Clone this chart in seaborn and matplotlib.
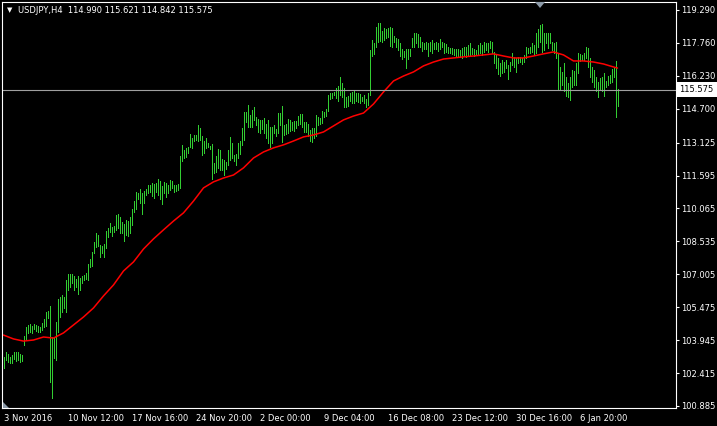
import matplotlib
matplotlib.use("Agg")
import matplotlib.pyplot as plt
from matplotlib.patches import Polygon
import seaborn as sns

# -----------------------------
# Data: USDJPY H4 bars (high / low)
# -----------------------------
symbol_text = "USDJPY,H4  114.990 115.621 114.842 115.575"
last_close = 115.575

highs = [
    103.16, 103.39, 103.30, 103.16, 103.25, 103.39, 103.39, 103.39, 103.30, 103.25,
    104.14, 104.56, 104.65, 104.70, 104.60, 104.70, 104.65, 104.60, 104.56, 104.74,
    104.93, 105.25, 105.30, 105.53, 104.09, 104.09, 104.79, 105.86, 105.95, 106.04,
    105.95, 106.74, 107.02, 107.02, 107.02, 106.93, 106.79, 106.93, 106.83, 106.93,
    106.97, 107.07, 107.48, 107.72, 108.04, 108.51, 108.93, 108.83, 108.37, 108.32,
    108.41, 109.02, 109.16, 109.39, 109.20, 109.25, 109.76, 109.81, 109.67, 109.44,
    109.34, 109.53, 109.48, 109.67, 110.04, 110.41, 110.83, 110.79, 110.97, 110.79,
    110.88, 110.97, 111.16, 111.16, 111.25, 111.20, 111.25, 111.44, 111.34, 111.11,
    111.30, 111.25, 111.16, 111.39, 111.34, 111.16, 111.16, 111.20, 112.50, 113.02,
    112.78, 112.88, 112.92, 113.53, 113.34, 113.48, 113.48, 113.94, 113.81, 113.43,
    113.20, 113.34, 113.11, 112.97, 113.05, 112.18, 112.50, 112.83, 112.78, 112.37,
    112.32, 112.22, 112.78, 113.39, 113.11, 112.55, 112.60, 113.11, 113.20, 113.81,
    114.55, 114.55, 114.88, 114.41, 114.64, 114.78, 114.32, 114.22, 114.18, 114.18,
    114.27, 113.99, 114.18, 113.85, 113.85, 113.95, 113.76, 114.50, 114.50, 114.83,
    113.95, 113.99, 114.22, 114.18, 114.09, 114.13, 114.13, 114.36, 114.46, 114.46,
    114.09, 114.09, 113.99, 113.71, 113.81, 113.81, 114.41, 114.32, 114.27, 114.60,
    114.55, 114.69, 115.34, 115.43, 115.43, 115.48, 115.66, 115.76, 116.18, 115.90,
    115.66, 115.25, 115.29, 115.43, 115.48, 115.53, 115.43, 115.43, 115.39, 115.25,
    115.34, 115.15, 115.43, 117.43, 117.90, 117.76, 118.50, 118.69, 118.69, 118.31,
    118.45, 118.41, 118.45, 118.50, 118.45, 118.08, 117.99, 117.94, 117.76, 117.48,
    117.38, 117.48, 117.48, 117.48, 117.99, 118.22, 118.22, 118.18, 118.04, 117.80,
    117.76, 117.80, 117.76, 117.80, 117.90, 117.76, 117.80, 117.76, 117.94, 117.80,
    117.76, 117.71, 117.57, 117.52, 117.52, 117.48, 117.48, 117.48, 117.43, 117.52,
    117.57, 117.57, 117.66, 117.76, 117.52, 117.48, 117.43, 117.66, 117.76, 117.66,
    117.80, 117.76, 117.76, 117.85, 117.80, 117.34, 117.20, 117.06, 116.83, 116.97,
    116.87, 116.97, 116.73, 116.87, 117.29, 117.11, 117.06, 117.11, 117.11, 117.06,
    117.20, 117.57, 117.52, 117.57, 117.76, 117.66, 118.22, 118.41, 118.59, 118.64,
    118.22, 118.22, 118.22, 118.22, 117.80, 117.76, 117.80, 117.29, 116.64, 116.41,
    116.83, 116.18, 115.90, 116.18, 116.50, 116.45, 116.83, 117.29, 117.25, 117.20,
    117.29, 117.57, 117.52, 117.06, 116.64, 116.50, 116.18, 115.94, 116.13, 116.18,
    116.36, 116.00, 116.22, 116.27, 116.55, 116.59, 116.92, 115.62,
]

lows = [
    102.65, 103.02, 102.93, 102.88, 102.88, 103.07, 102.98, 103.02, 102.93, 102.98,
    103.72, 103.95, 104.28, 104.32, 104.28, 104.46, 104.37, 104.32, 104.32, 104.42,
    104.56, 104.60, 104.97, 102.00, 101.26, 103.12, 103.02, 104.32, 105.02, 105.25,
    105.44, 105.25, 106.28, 106.42, 106.60, 106.28, 106.42, 106.09, 106.28, 106.60,
    106.74, 106.79, 106.74, 107.35, 107.39, 108.00, 108.28, 108.32, 107.81, 108.00,
    107.81, 108.23, 108.74, 108.98, 108.79, 108.98, 109.07, 109.16, 108.93, 108.93,
    108.56, 108.83, 108.79, 108.93, 109.30, 109.90, 110.04, 110.51, 110.32, 109.81,
    110.32, 110.69, 110.79, 110.83, 110.65, 110.55, 110.83, 110.69, 110.51, 110.27,
    110.79, 110.60, 110.79, 110.92, 111.02, 110.83, 110.88, 110.92, 111.02, 112.27,
    112.41, 112.46, 112.64, 112.92, 112.88, 113.20, 113.25, 113.20, 113.25, 112.55,
    112.64, 112.88, 112.92, 112.83, 111.44, 111.72, 111.76, 111.95, 111.86, 111.86,
    111.63, 111.90, 112.09, 112.32, 112.41, 112.27, 112.09, 112.41, 112.60, 113.02,
    113.25, 114.09, 113.85, 113.85, 113.85, 114.18, 113.95, 113.62, 113.57, 113.76,
    113.57, 113.34, 113.11, 112.92, 113.11, 113.57, 113.43, 113.57, 113.95, 113.16,
    113.48, 113.53, 113.57, 113.67, 113.71, 113.67, 113.81, 113.95, 113.99, 113.85,
    113.62, 113.62, 113.43, 113.20, 113.16, 113.34, 113.43, 113.95, 113.99, 114.04,
    114.32, 114.36, 114.60, 115.15, 115.20, 115.34, 115.20, 115.06, 115.34, 115.25,
    114.78, 114.78, 114.83, 115.06, 114.97, 114.97, 115.06, 115.01, 114.97, 115.06,
    114.97, 114.78, 114.88, 115.34, 117.15, 117.25, 117.57, 117.80, 117.85, 117.80,
    117.90, 117.99, 118.04, 117.62, 117.57, 117.80, 117.57, 117.43, 117.15, 117.01,
    117.11, 116.60, 117.01, 117.15, 117.57, 117.57, 117.76, 117.57, 117.57, 117.38,
    117.48, 117.48, 117.15, 117.38, 117.29, 117.48, 117.48, 117.38, 117.48, 117.57,
    117.29, 117.34, 117.29, 117.29, 117.25, 117.20, 117.11, 117.15, 117.11, 117.06,
    117.15, 117.11, 117.20, 117.15, 117.25, 117.15, 117.25, 117.20, 117.29, 117.20,
    117.34, 117.43, 117.34, 117.52, 117.29, 116.83, 116.59, 116.32, 116.22, 116.36,
    116.41, 116.59, 116.08, 116.45, 116.73, 116.64, 116.41, 116.83, 116.87, 116.78,
    116.87, 117.06, 117.29, 117.29, 117.34, 117.20, 117.29, 117.57, 117.80, 117.34,
    117.43, 117.76, 117.52, 117.76, 117.43, 117.29, 117.06, 115.62, 115.62, 115.80,
    115.53, 115.29, 115.25, 115.11, 115.71, 115.80, 115.80, 116.36, 116.92, 116.97,
    116.97, 117.06, 116.64, 116.18, 115.94, 115.71, 115.53, 115.25, 115.62, 115.53,
    115.29, 115.71, 115.80, 115.90, 115.94, 116.18, 114.32, 114.84,
]

# moving average (red line), read every 5th bar plus the last bar
ma_bars = list(range(0, 306, 5)) + [307]
ma_values = [
    104.18, 104.00, 103.90, 103.95, 104.09, 104.04, 104.28, 104.65, 105.02, 105.44,
    106.00, 106.51, 107.16, 107.58, 108.18, 108.65, 109.07, 109.48, 109.86, 110.41,
    111.02, 111.30, 111.48, 111.62, 111.95, 112.41, 112.69, 112.88, 113.02, 113.20,
    113.39, 113.48, 113.62, 113.90, 114.18, 114.36, 114.50, 114.92, 115.48, 115.99,
    116.22, 116.41, 116.69, 116.87, 117.01, 117.06, 117.11, 117.15, 117.20, 117.25,
    117.15, 117.06, 117.06, 117.15, 117.25, 117.34, 117.20, 116.92, 116.92, 116.87,
    116.78, 116.64, 116.59,
]

# axis labels
price_ticks = [100.885, 102.415, 103.945, 105.475, 107.005, 108.535, 110.065,
               111.595, 113.125, 114.700, 116.230, 117.760, 119.290]
date_tick_bars = [0, 32, 64, 96, 128, 160, 192, 224, 256, 288]
date_labels = ["3 Nov 2016", "10 Nov 12:00", "17 Nov 16:00", "24 Nov 20:00",
               "2 Dec 00:00", "9 Dec 04:00", "16 Dec 08:00", "23 Dec 12:00",
               "30 Dec 16:00", "6 Jan 20:00"]

bars = list(range(len(highs)))

# -----------------------------
# Style
# -----------------------------
sns.set_style("dark")
plt.rcParams["font.family"] = ["DejaVu Sans"]

W, H = 717, 426
fig = plt.figure(figsize=(W / 100, H / 100), dpi=100, facecolor="black")
ax = fig.add_axes([2 / W, 18 / H, 674 / W, 406 / H], facecolor="black")

bar_color = "#32cd32"
ma_color = "#ff0000"

# -----------------------------
# Bars and moving average
# -----------------------------
# one pixel wide bars, two pixels apart
ax.vlines(bars, lows, highs, color=bar_color, linewidth=0.72, antialiased=False)
sns.lineplot(x=ma_bars, y=ma_values, ax=ax, color=ma_color, linewidth=1.1)
ax.axhline(last_close, color="#a0a0a0", linewidth=0.8)

ax.set_xlim(-0.75, 336.25)
ax.set_ylim(100.79, 119.66)

# -----------------------------
# Axes, ticks
# -----------------------------
for sp in ax.spines.values():
    sp.set_color("white")
    sp.set_linewidth(0.8)
    sp.set_visible(True)
ax.grid(False)

ax.yaxis.tick_right()
ax.set_yticks(price_ticks)
ax.set_yticklabels([f"{v:.3f}" for v in price_ticks])
ax.set_xticks(date_tick_bars)
ax.set_xticklabels(date_labels)
for lab in ax.get_xticklabels():
    lab.set_ha("left")
ax.tick_params(axis="both", colors="white", labelsize=6, length=2.5, width=0.8,
               direction="out", pad=1.5)
ax.tick_params(axis="y", left=False, right=True, labelleft=False, labelright=True)
ax.set_xlabel("")
ax.set_ylabel("")

# current price box on the right axis
ax.annotate(f"{last_close:.3f}", xy=(1.0, last_close),
            xycoords=("axes fraction", "data"), xytext=(3.5, 0),
            textcoords="offset pixels", ha="left", va="center",
            fontsize=6, color="black", annotation_clip=False,
            bbox=dict(boxstyle="square,pad=0.35", fc="white", ec="none"))

# header text
fig.text(7 / W, 1 - 10.5 / H, "\u25bc", color="white", fontsize=5, va="center")
fig.text(18 / W, 1 - 10.5 / H, symbol_text, color="white", fontsize=6, va="center")

# small chart markers (shift marker on top, corner marker at bottom-left)
marker_color = "#8c9aa8"
fig.patches.append(Polygon([[535 / W, 1 - 2 / H], [545 / W, 1 - 2 / H], [540 / W, 1 - 8 / H]],
                           closed=True, transform=fig.transFigure, fc=marker_color, ec="none"))
fig.patches.append(Polygon([[3 / W, 1 - 402 / H], [3 / W, 1 - 408 / H], [9 / W, 1 - 408 / H]],
                           closed=True, transform=fig.transFigure, fc=marker_color, ec="none"))

plt.savefig("out.png", dpi=100, facecolor="black")
